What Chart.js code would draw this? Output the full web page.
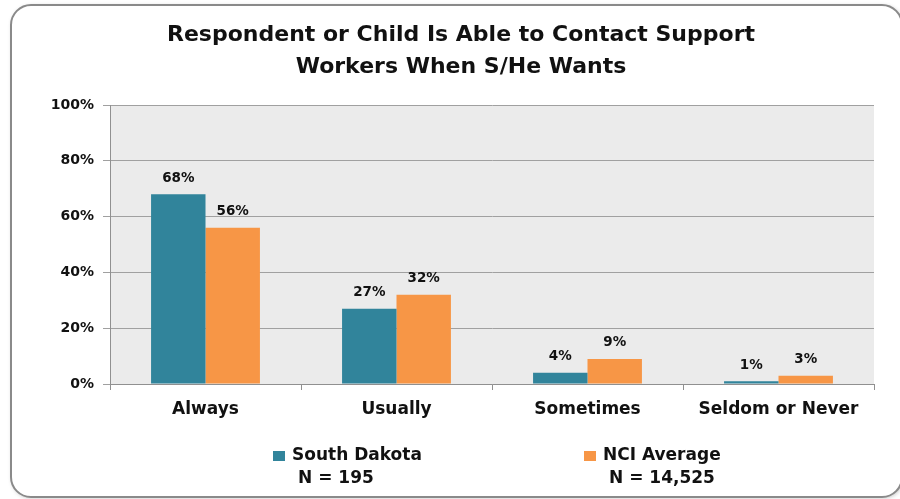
<!DOCTYPE html>
<html>
<head>
<meta charset="utf-8">
<script src="https://cdn.jsdelivr.net/npm/chart.js@4/dist/chart.umd.min.js"></script>
<style>
  html, body { margin: 0; padding: 0; background: #fff; }
  #wrap { width: 900px; height: 499px; }
</style>
</head>
<body>
<div id="wrap"><canvas id="contact-chart"></canvas></div>
<script>
// Survey answers and the two groups compared
const categories = ['Always', 'Usually', 'Sometimes', 'Seldom or Never'];
const southDakota = [68, 27, 4, 1];
const nciAverage = [56, 32, 9, 3];
const seriesNames = ['South Dakota', 'NCI Average'];
const seriesCounts = ['N = 195', 'N = 14,525'];
const yTicks = [0, 20, 40, 60, 80, 100];

const TEAL = '#31849b';
const ORANGE = '#f79646';
const FONT = '"DejaVu Sans", "Open Sans", sans-serif';

// White page, rounded frame and grey plot area
const framePlugin = {
  id: 'frame',
  beforeDraw(chart) {
    const { ctx, chartArea: a } = chart;
    ctx.save();
    ctx.fillStyle = '#fff';
    ctx.fillRect(0, 0, chart.width, chart.height);

    ctx.shadowColor = 'rgba(0,0,0,0.25)';
    ctx.shadowBlur = 4;
    ctx.shadowOffsetX = 1;
    ctx.shadowOffsetY = 1;
    ctx.beginPath();
    ctx.roundRect(11, 5, 891, 492, 20);
    ctx.fillStyle = '#fff';
    ctx.fill();
    ctx.shadowColor = 'transparent';
    ctx.lineWidth = 2;
    ctx.strokeStyle = '#8a8a8a';
    ctx.stroke();

    ctx.fillStyle = '#ebebeb';
    ctx.fillRect(a.left, a.top, a.right - a.left, a.bottom - a.top);
    ctx.restore();
  }
};

// Percent labels above every bar
const valueLabels = {
  id: 'valueLabels',
  afterDatasetsDraw(chart) {
    const { ctx } = chart;
    ctx.save();
    ctx.font = 'bold 13.5px ' + FONT;
    ctx.fillStyle = '#111';
    ctx.textAlign = 'center';
    ctx.textBaseline = 'middle';
    chart.data.datasets.forEach((ds, i) => {
      chart.getDatasetMeta(i).data.forEach((bar, j) => {
        ctx.fillText(ds.data[j] + '%', bar.x, bar.y - 16);
      });
    });
    ctx.restore();
  }
};

// Legend with sample sizes under each name
const countLegend = {
  id: 'countLegend',
  afterDraw(chart) {
    const { ctx } = chart;
    const starts = [273, 584];
    ctx.save();
    ctx.font = 'bold 17px ' + FONT;
    ctx.textBaseline = 'middle';
    ctx.textAlign = 'left';
    chart.data.datasets.forEach((ds, i) => {
      const x = starts[i];
      ctx.fillStyle = ds.backgroundColor;
      ctx.fillRect(x, 451, 12, 10);
      ctx.fillStyle = '#111';
      ctx.fillText(seriesNames[i], x + 19, 456);
      ctx.fillText(seriesCounts[i], x + 25, 479);
    });
    ctx.restore();
  }
};

const ctx = document.getElementById('contact-chart');

new Chart(ctx, {
  type: 'bar',
  data: {
    labels: categories,
    datasets: [
      {
        label: seriesNames[0],
        data: southDakota,
        backgroundColor: TEAL,
        barPercentage: 1.0,
        categoryPercentage: 0.57
      },
      {
        label: seriesNames[1],
        data: nciAverage,
        backgroundColor: ORANGE,
        barPercentage: 1.0,
        categoryPercentage: 0.57
      }
    ]
  },
  options: {
    responsive: true,
    maintainAspectRatio: false,
    animation: false,
    devicePixelRatio: 1,
    layout: {
      padding: { top: 0, left: 48, right: 26, bottom: 0 }
    },
    scales: {
      y: {
        min: 0,
        max: 100,
        afterBuildTicks: (scale) => {
          scale.ticks = yTicks.map(v => ({ value: v }));
        },
        afterFit: (scale) => { scale.width = 62; },
        ticks: {
          callback: (value) => value + '%',
          color: '#111',
          font: { family: FONT, size: 14, weight: 'bold' },
          padding: 9
        },
        grid: {
          color: '#a0a0a0',
          tickLength: 7
        },
        border: { color: '#909090' }
      },
      x: {
        afterFit: (scale) => { scale.height = 115; },
        ticks: {
          color: '#111',
          font: { family: FONT, size: 17, weight: 'bold' },
          padding: 9
        },
        grid: {
          drawOnChartArea: false,
          color: '#909090',
          tickLength: 6
        },
        border: { color: '#909090' }
      }
    },
    plugins: {
      legend: { display: false },
      tooltip: { enabled: false },
      title: {
        display: true,
        text: ['Respondent or Child Is Able to Contact Support', 'Workers When S/He Wants'],
        color: '#111',
        font: { family: FONT, size: 22, weight: 'bold', lineHeight: 1.455 },
        padding: { top: 19, bottom: 22 }
      }
    }
  },
  plugins: [framePlugin, valueLabels, countLegend]
});
</script>
</body>
</html>
